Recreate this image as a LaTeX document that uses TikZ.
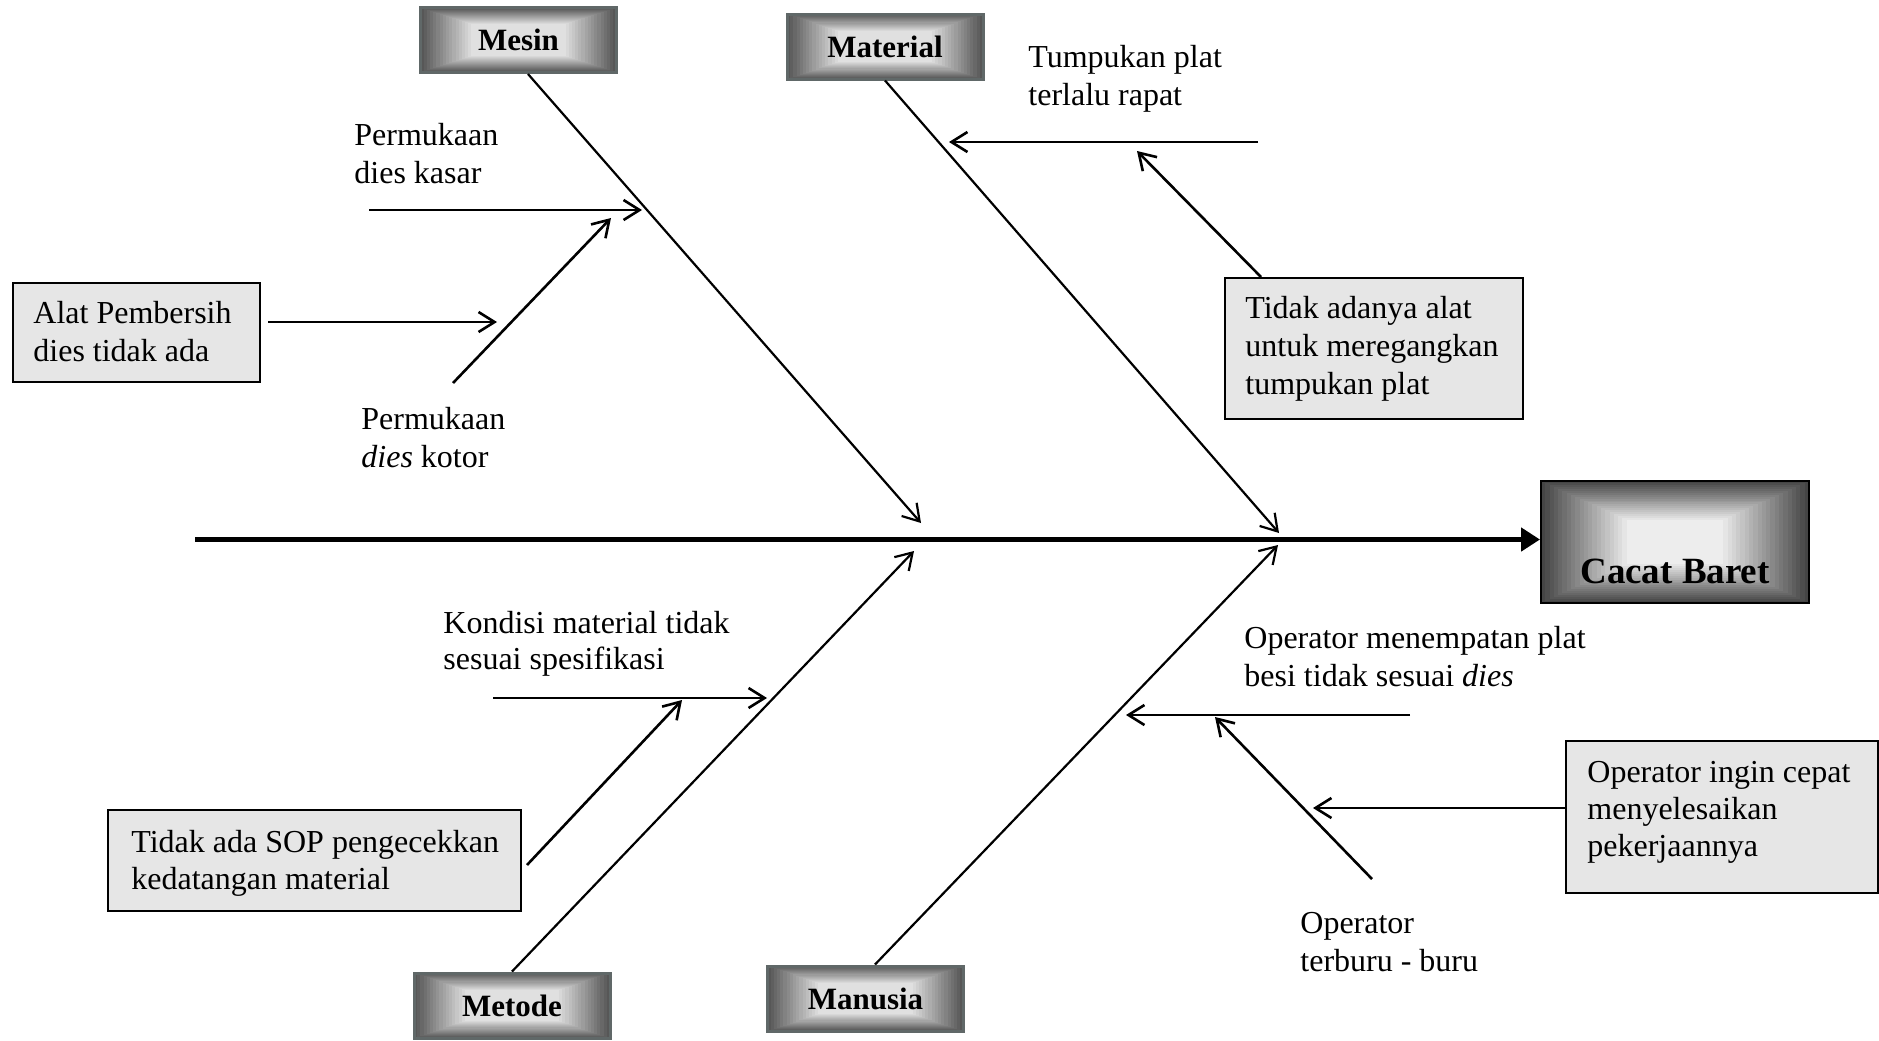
\documentclass[tikz,border=0pt]{standalone}
\usepackage{fontspec}
\setmainfont{Liberation Serif}
\usetikzlibrary{arrows.meta,calc}

\definecolor{rim}{RGB}{96,104,104}
\definecolor{notefill}{RGB}{230,230,230}

\begin{document}
\begin{tikzpicture}[x=0.5pt,y=-0.5pt,
  % rectangular bands from dark edges to a light centre
  bevel/.style n args={4}{path picture={
    \foreach \k in {0,...,#1}{
      \pgfmathsetmacro\wpct{#2+(#3-#2)*\k/#1}
      \pgfmathsetmacro\insetfrac{#4*\k/#1}
      \fill[white!\wpct!black]
        ($(path picture bounding box.south west)!\insetfrac!(path picture bounding box.north east)$)
        rectangle
        ($(path picture bounding box.north east)!\insetfrac!(path picture bounding box.south west)$);
    }}},
  catbox/.style={draw=rim, line width=1.5pt, minimum width=98pt, minimum height=32.5pt,
    inner sep=0pt, font=\fontsize{15.5}{18}\selectfont\bfseries, bevel={16}{34}{88}{0.26}},
  effectbox/.style={draw=black, line width=1pt, minimum width=134pt, minimum height=61pt,
    inner sep=0pt, bevel={20}{27}{93}{0.32}},
  effecttext/.style={inner sep=0pt, font=\fontsize{18.5}{21}\selectfont\bfseries},
  notebox/.style={draw=black, line width=1pt, fill=notefill, inner sep=0pt},
  % multi-line labels are placed by the baseline of their last line
  freetext/.style={inner sep=0pt, anchor=base west, align=left, font=\fontsize{16}{18.75}\selectfont},
  notetext/.style={inner sep=0pt, anchor=base west, align=left, font=\fontsize{16}{18.75}\selectfont},
  spine/.style={line width=2.8pt, -{Triangle[length=9.5pt,width=11.5pt]}},
  bone/.style={line width=1.1pt, -{Straight Barb[length=8pt,width=10pt]}},
  cause/.style={line width=1.3pt, -{Straight Barb[length=8pt,width=10pt]}}
]
\useasboundingbox (0,0) rectangle (1879,1040);
\fill[white] (0,0) rectangle (1879,1040);

% category heads
\node[catbox] (mesin) at (518.5,40) {Mesin};
\node[catbox] (material) at (885,46.5) {Material};
\node[catbox] (metode) at (512,1005.5) {Metode};
\node[catbox] (manusia) at (865.5,998.5) {Manusia};

% effect head
\node[effectbox] (cb) at (1675,542) {};
\node[effecttext, anchor=base] (cbtext) at (1675,583) {Cacat Baret};

% spine
\coordinate (tail) at (195,539.5);
\draw[spine] (tail) -- (tail -| cb.west);

% main bones
\coordinate (mesintip) at (921,523);
\coordinate (materialtip) at (1279,533);
\coordinate (metodetip) at (914,551);
\coordinate (manusiatip) at (1278,545);
\draw[bone] ($(mesin.south)+(9.5,0)$) -- (mesintip);
\draw[bone] (material.south) -- (materialtip);
\draw[bone] (metode.north) -- (metodetip);
\draw[bone] ($(manusia.north)+(9.5,0)$) -- (manusiatip);

% Mesin causes
\coordinate (kasarstart) at (369,210);
\coordinate (kasartip) at (642,210);
\draw[cause] (kasarstart) -- (kasartip);
\coordinate (kotorstart) at (453,383);
\coordinate (kotortip) at (611,218);
\draw[cause] (kotorstart) -- (kotortip);
\node[notebox, minimum width=123.5pt, minimum height=49.5pt] (alat) at (136.5,332.5) {};
\coordinate (alattip) at (497,322);
\draw[cause] ($(alat.east |- alattip)+(7,0)$) -- (alattip);

% Material causes
\coordinate (tumpukanstart) at (1258,142);
\coordinate (tumpukantip) at (949,142);
\draw[cause] (tumpukanstart) -- (tumpukantip);
\node[notebox, minimum width=149pt, minimum height=70.5pt] (tidakalat) at (1374,348.5) {};
\coordinate (tidakalattip) at (1137,151);
\draw[cause] ($(tidakalat.north west)+(37,0)$) -- (tidakalattip);

% Metode causes
\coordinate (kondisistart) at (493,698);
\coordinate (kondisitip) at (767,698);
\draw[cause] (kondisistart) -- (kondisitip);
\node[notebox, minimum width=206.5pt, minimum height=50.5pt] (sop) at (314.5,860.5) {};
\coordinate (soptip) at (682,700);
\draw[cause] ($(sop.east)+(5,4.5)$) -- (soptip);

% Manusia causes
\coordinate (menempatanstart) at (1410,715);
\coordinate (menempatantip) at (1126,715);
\draw[cause] (menempatanstart) -- (menempatantip);
\coordinate (burustart) at (1372,879);
\coordinate (burutip) at (1215,717);
\draw[cause] (burustart) -- (burutip);
\node[notebox, minimum width=156pt, minimum height=76pt] (ingin) at (1722,817) {};
\coordinate (ingintip) at (1313,808);
\draw[cause] (ingin.west |- ingintip) -- (ingintip);

% labels
\node[freetext] (kasartext) at (354,183) {Permukaan\\dies kasar};
\node[freetext] (kotortext) at (361,467) {Permukaan\\\textit{dies} kotor};
\node[notetext, font=\fontsize{16}{19}\selectfont] (alattext) at (33,361) {Alat Pembersih\\dies tidak ada};
\node[freetext] (tumpukantext) at (1028,105) {Tumpukan plat\\terlalu rapat};
\node[notetext, font=\fontsize{16}{19}\selectfont] (tidakalattext) at (1245,394) {Tidak adanya alat\\untuk meregangkan\\tumpukan plat};
\node[freetext, font=\fontsize{16}{18}\selectfont] (kondisitext) at (443,669) {Kondisi material tidak\\sesuai spesifikasi};
\node[notetext, font=\fontsize{16}{18.5}\selectfont] (soptext) at (131,889) {Tidak ada SOP pengecekkan\\kedatangan material};
\node[freetext] (menempatantext) at (1244,686) {Operator menempatan plat\\besi tidak sesuai \textit{dies}};
\node[freetext] (burutext) at (1300,971) {Operator\\terburu - buru};
\node[notetext, font=\fontsize{16}{18.5}\selectfont] (ingintext) at (1587,856) {Operator ingin cepat\\menyelesaikan\\pekerjaannya};
\end{tikzpicture}
\end{document}
